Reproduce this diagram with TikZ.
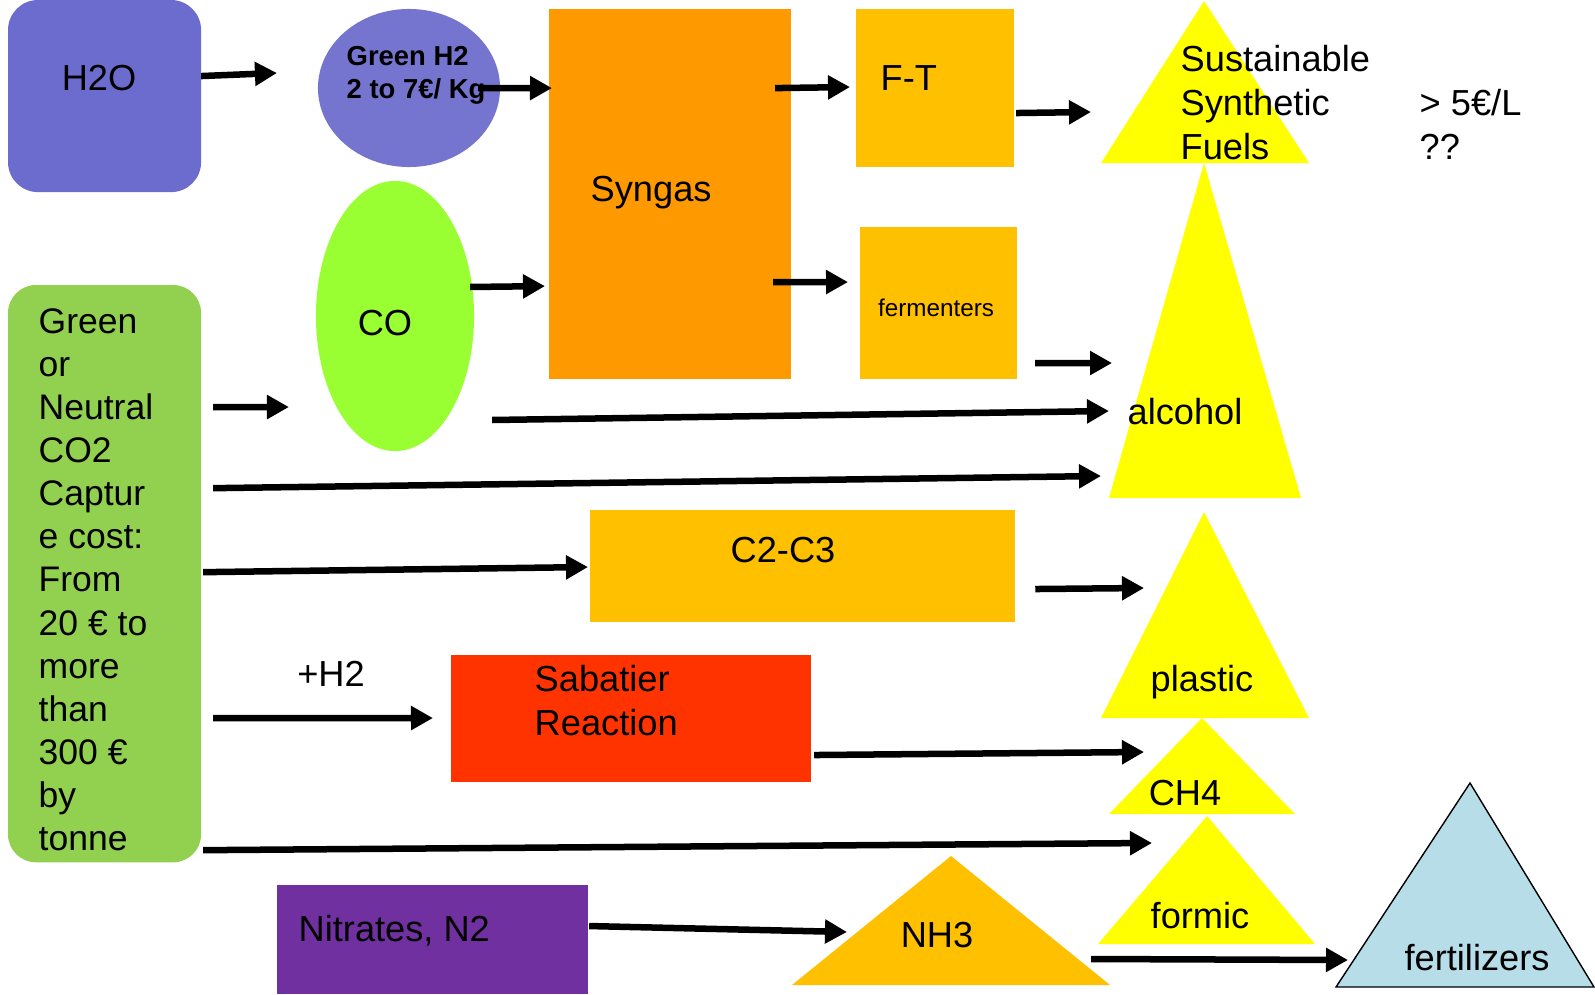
\documentclass[tikz,border=0pt]{standalone}
\usepackage{fontspec}
\setmainfont{Liberation Sans}
\usetikzlibrary{arrows.meta,shapes.geometric}
\definecolor{slateblue}{RGB}{108, 108, 207}
\definecolor{lavender}{RGB}{117, 117, 207}
\definecolor{tangerine}{RGB}{255, 153, 0}
\definecolor{amber}{RGB}{255, 192, 0}
\definecolor{lime}{RGB}{153, 255, 51}
\definecolor{leaf}{RGB}{146, 208, 80}
\definecolor{vermilion}{RGB}{255, 51, 0}
\definecolor{plum}{RGB}{112, 48, 160}
\definecolor{lemon}{RGB}{255, 255, 0}
\definecolor{powder}{RGB}{183, 222, 232}
\tikzset{
    box/.style={rectangle, inner sep=0pt, outer sep=0pt, anchor=north west},
    oval/.style={ellipse, inner sep=0pt, outer sep=0pt},
    txt/.style={inner sep=0pt, font=\fontsize{10.3}{12.4}\selectfont},
    flow/.style={-{Triangle[length=0.22cm, width=0.23cm]}, line width=0.065cm}
}

\begin{document}
\begin{tikzpicture}[x=0.01cm, y=-0.01cm]
            \useasboundingbox (0, 0) rectangle (1595, 994);
            % Sources
            \node[box, fill=slateblue, rounded corners=0.3cm, minimum width=1.93cm, minimum height=1.92cm] (h2o) at (8, 0) {};
            \node[box, fill=leaf, rounded corners=0.28cm, minimum width=1.93cm, minimum height=5.77cm]    (co2) at (8, 285) {};
            \node[box, fill=plum, minimum width=3.11cm, minimum height=1.09cm]                            (nitr) at (277, 885) {};
            % Intermediates
            \node[oval, fill=lavender, minimum width=1.82cm, minimum height=1.58cm]                       (gh2) at (409, 88) {};
            \node[oval, fill=lime, minimum width=1.58cm, minimum height=2.70cm]                           (co) at (395, 316) {};
            \node[box, fill=tangerine, minimum width=2.42cm, minimum height=3.70cm]                       (syngas) at (549, 9) {};
            \node[box, fill=amber, minimum width=1.58cm, minimum height=1.58cm]                           (ft) at (856, 9) {};
            \node[box, fill=amber, minimum width=1.57cm, minimum height=1.52cm]                           (ferm) at (860, 227) {};
            \node[box, fill=amber, minimum width=4.25cm, minimum height=1.12cm]                           (c2c3) at (590, 510) {};
            \node[box, fill=vermilion, minimum width=3.60cm, minimum height=1.27cm]                       (sab) at (451, 655) {};
            % Products
            \fill[lemon] (1109, 498) -- (1204, 163) -- (1301, 498) -- cycle;
            \fill[lemon] (1101, 163) -- (1204,   1) -- (1309, 163) -- cycle;
            \fill[lemon] (1101, 718) -- (1204, 512) -- (1309, 718) -- cycle;
            \fill[lemon] (1109, 814) -- (1202, 718) -- (1295, 814) -- cycle;
            \fill[lemon] (1098, 944) -- (1207, 816) -- (1315, 944) -- cycle;
            \fill[amber] ( 792, 985) -- ( 951, 856) -- (1110, 985) -- cycle;
            \filldraw[draw=black, fill=powder, line width=0.4pt] (1336, 987) -- (1470, 783) -- (1594, 987) -- cycle;
            \coordinate (fuelsin) at (1091, 112);
            \coordinate (alcin1)  at (1112, 363);
            \coordinate (alcin2)  at (1109, 411);
            \coordinate (alcin3)  at (1101, 476);
            \coordinate (plasin)  at (1144, 588);
            \coordinate (ch4in)   at (1144, 752);
            \coordinate (formin)  at (1152, 843);
            \coordinate (nh3in)   at ( 847, 932);
            \coordinate (nh3out)  at (1091, 959);
            \coordinate (fertin)  at (1348, 960);
            % Labels
            \node[txt, anchor=base]            (h2otxt)  at (  99,  91) {H2O};
            \node[txt, anchor=north west, align=left, font=\bfseries\fontsize{7.8}{9.25}\selectfont]
                                               (gh2txt)  at ( 346,  46) {Green H2\\2 to 7€/ Kg};
            \node[txt, anchor=base west]       (syntxt)  at ( 590, 201) {Syngas};
            \node[txt, anchor=base west]       (fttxt)   at ( 880,  91) {F-T};
            \node[txt, anchor=base, font=\fontsize{6.9}{8}\selectfont]
                                               (fermtxt) at ( 936, 316) {fermenters};
            \node[txt, anchor=base]            (cotxt)   at ( 385, 335) {CO};
            \node[txt, anchor=north west, align=left, font=\fontsize{10.1}{12.25}\selectfont]
                                               (co2txt)  at (  38, 308) {Green\\or\\Neutral\\CO2\\Captur\\e cost:\\From\\20 € to\\more\\than\\300 €\\by\\tonne};
            \node[txt, anchor=base]            (c23txt)  at ( 783, 562) {C2-C3};
            \node[txt, anchor=base]            (h2txt)   at ( 331, 686) {+H2};
            \node[txt, anchor=north west, align=left]
                                               (sabtxt)  at ( 534, 665) {Sabatier\\Reaction};
            \node[txt, anchor=base west]       (nitrtxt) at ( 298, 941) {Nitrates, N2};
            \node[txt, anchor=north west, align=left]
                                               (fuelstxt) at (1180,  45) {Sustainable\\Synthetic\\Fuels};
            \node[txt, anchor=north west, align=left]
                                               (pricetxt) at (1419,  89) {> 5€/L\\??};
            \node[txt, anchor=base]            (alctxt)  at (1185, 424) {alcohol};
            \node[txt, anchor=base]            (plastxt) at (1202, 691) {plastic};
            \node[txt, anchor=base]            (ch4txt)  at (1185, 805) {CH4};
            \node[txt, anchor=base]            (formtxt) at (1200, 928) {formic};
            \node[txt, anchor=base]            (nh3txt)  at ( 937, 947) {NH3};
            \node[txt, anchor=base]            (ferttxt) at (1477, 970) {fertilizers};
            % Flows
            \draw[flow] ([shift={(  0, -20)}]h2o.east)    -- ([shift={(-41, -15)}]gh2.west);
            \draw[flow] ([shift={(-22,   0)}]gh2.east)    -- ([shift={(  3,-106)}]syngas.west);
            \draw[flow] ([shift={(-16,-106)}]syngas.east) -- ([shift={( -6,  -1)}]ft.west);
            \draw[flow] ([shift={(  2,  25)}]ft.east)     -- (fuelsin);
            \draw[flow] ([shift={(-18,  88)}]syngas.east) -- ([shift={(-12, -21)}]ferm.west);
            \draw[flow] ([shift={( 18,  60)}]ferm.east)   -- (alcin1);
            \draw[flow] ([shift={( -4, -29)}]co.east)     -- ([shift={( -4,  92)}]syngas.west);
            \draw[flow] ([shift={( 18, 104)}]co.east)     -- (alcin2);
            \draw[flow] ([shift={( 12,-166.5)}]co2.east)  -- ([shift={(-27,  91)}]co.west);
            \draw[flow] ([shift={( 12, -85.5)}]co2.east)  -- (alcin3);
            \draw[flow] ([shift={(  2,  -1.5)}]co2.east)  -- ([shift={( -2,   1)}]c2c3.west);
            \draw[flow] ([shift={( 20,  23)}]c2c3.east)   -- (plasin);
            \draw[flow] ([shift={( 12, 144.5)}]co2.east)  -- ([shift={(-18,-0.5)}]sab.west);
            \draw[flow] ([shift={(  3,  36.5)}]sab.east)  -- (ch4in);
            \draw[flow] ([shift={(  2, 276.5)}]co2.east)  -- (formin);
            \draw[flow] ([shift={(  1, -13.5)}]nitr.east) -- (nh3in);
            \draw[flow] (nh3out)                          -- (fertin);
        \end{tikzpicture}
\end{document}
